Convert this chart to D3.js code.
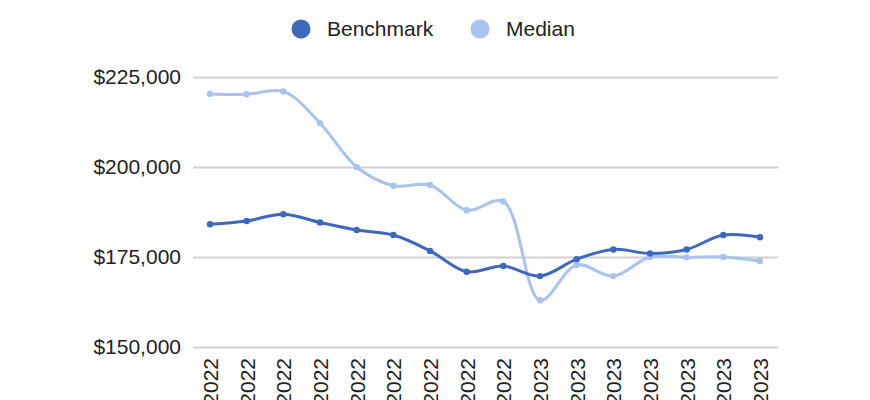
<!DOCTYPE html>
<html>
<head>
<meta charset="utf-8">
<script src="https://cdn.jsdelivr.net/npm/d3@7"></script>
<style>
  body { margin: 0; background: #fff; }
  text { font-family: "Liberation Sans", Arial, sans-serif; fill: #222; }
</style>
</head>
<body>
<div id="wrapper"></div>
<script>
// x tick labels as far as the picture shows them (rotated, cut by the bottom edge)
const months = ["2022", "2022", "2022", "2022", "2022", "2022", "2022", "2022", "2022",
  "2023", "2023", "2023", "2023", "2023", "2023", "2023"];
const benchmark = [184100, 185000, 186900, 184600, 182500, 181100, 176700, 170900,
  172500, 169700, 174400, 177100, 176000, 177100, 181100, 180500];
const median = [220300, 220200, 221000, 212200, 200000, 194800, 195000, 188000,
  190400, 163000, 172800, 169700, 175000, 174900, 175000, 173900];
const yTicks = [150000, 175000, 200000, 225000];
const seriesNames = ["Benchmark", "Median"];

function drawChart() {
  const dimensions = {
    width: 870,
    height: 400,
    margin: { top: 77, right: 92, bottom: 53, left: 193 },
  };
  dimensions.boundedWidth = dimensions.width - dimensions.margin.left - dimensions.margin.right;
  dimensions.boundedHeight = dimensions.height - dimensions.margin.top - dimensions.margin.bottom;

  const colors = { Benchmark: "#3d68bd", Median: "#a8c3ee" };
  const fontSize = "21px";

  const wrapper = d3.select("#wrapper")
    .append("svg")
      .attr("width", dimensions.width)
      .attr("height", dimensions.height);

  const bounds = wrapper.append("g")
      .attr("transform", `translate(${dimensions.margin.left}, ${dimensions.margin.top})`);

  // point index is the domain so repeated year labels stay separate
  const xScale = d3.scalePoint()
    .domain(d3.range(months.length))
    .range([17, dimensions.boundedWidth - 18]);

  const yScale = d3.scaleLinear()
    .domain([150000, 225000])
    .range([dimensions.boundedHeight, 0]);

  // gridlines + y labels
  const yAxis = bounds.append("g")
    .call(d3.axisLeft(yScale)
      .tickValues(yTicks)
      .tickSize(-dimensions.boundedWidth)
      .tickPadding(12)
      .tickFormat(d => "$" + d3.format(",")(d)));
  yAxis.select(".domain").remove();
  yAxis.selectAll("line").attr("stroke", "#d0d0d0").attr("stroke-width", 2);
  yAxis.selectAll("text")
      .style("font-size", fontSize)
      .attr("fill", "#222");

  // x labels, rotated
  const xAxis = bounds.append("g")
      .attr("transform", `translate(0, ${dimensions.boundedHeight})`)
    .call(d3.axisBottom(xScale).tickSize(0).tickPadding(0).tickFormat(i => months[i]));
  xAxis.select(".domain").remove();
  xAxis.selectAll("text")
      .style("font-size", fontSize)
      .attr("fill", "#222")
      .attr("text-anchor", "end")
      .attr("dy", "0.35em")
      .attr("transform", "translate(0, 11) rotate(-90)")
      .attr("x", 0)
      .attr("y", 0);

  const series = [
    { name: "Median", values: median },
    { name: "Benchmark", values: benchmark },
  ];

  const lineGenerator = d3.line()
    .x((d, i) => xScale(i))
    .y(d => yScale(d))
    .curve(d3.curveCatmullRom.alpha(0.5));

  series.forEach(s => {
    bounds.append("path")
        .attr("d", lineGenerator(s.values))
        .attr("fill", "none")
        .attr("stroke", colors[s.name])
        .attr("stroke-width", 3);

    bounds.append("g")
      .selectAll("circle")
      .data(s.values)
      .join("circle")
        .attr("cx", (d, i) => xScale(i))
        .attr("cy", d => yScale(d))
        .attr("r", 3.2)
        .attr("fill", colors[s.name]);
  });

  // legend
  const legend = wrapper.append("g")
      .attr("transform", "translate(301, 29)");
  const legendX = [0, 179];
  seriesNames.forEach((name, i) => {
    const item = legend.append("g")
        .attr("transform", `translate(${legendX[i]}, 0)`);
    item.append("circle")
        .attr("r", 9.5)
        .attr("fill", colors[name]);
    item.append("text")
        .attr("x", 26)
        .attr("dy", "0.35em")
        .style("font-size", fontSize)
        .attr("fill", "#333")
        .text(name);
  });
}
drawChart();
</script>
</body>
</html>
